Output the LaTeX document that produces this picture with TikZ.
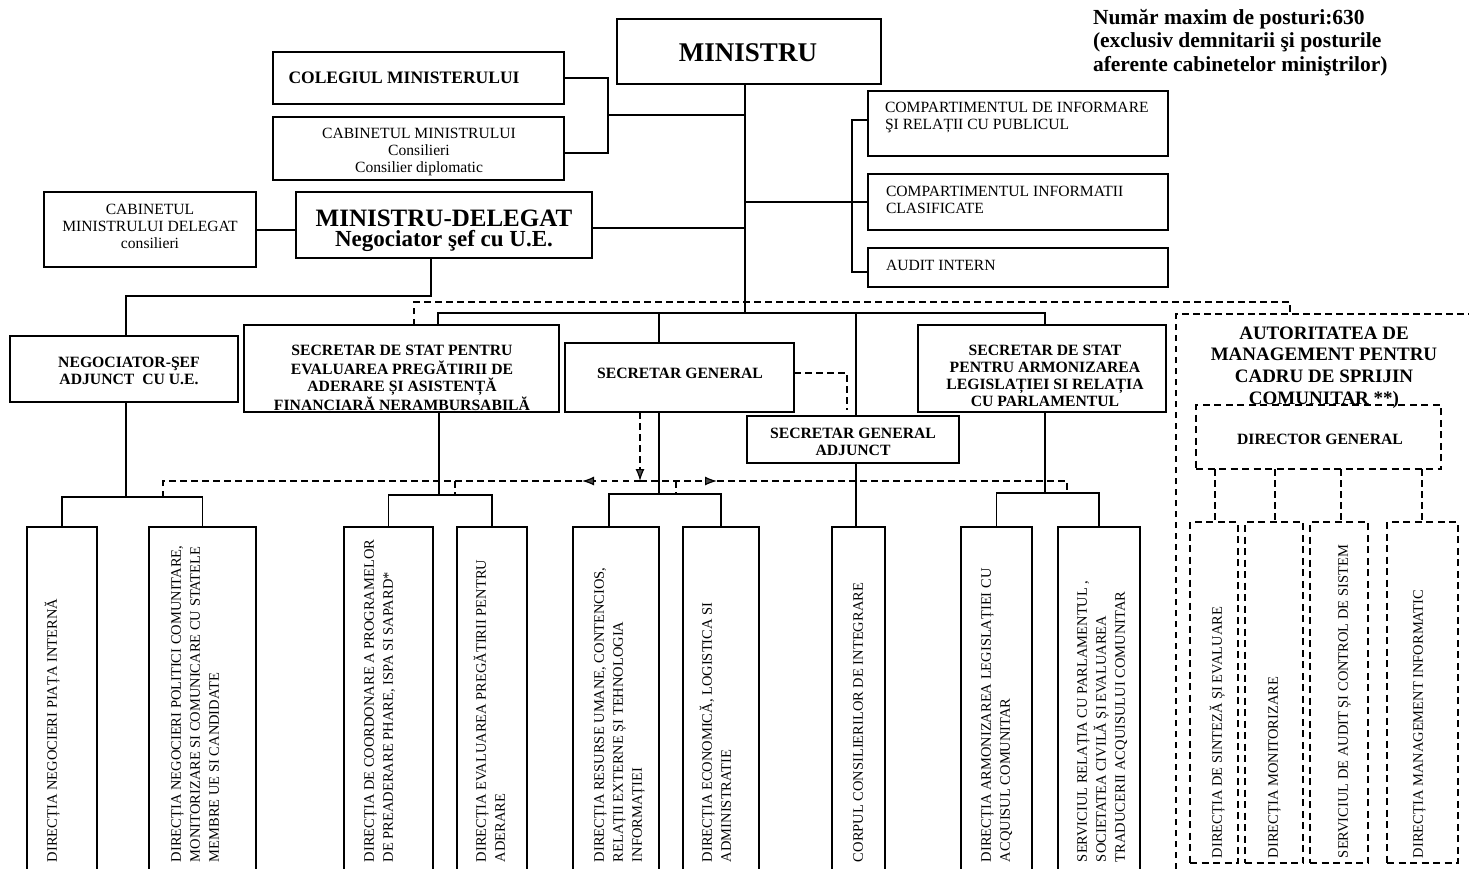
\documentclass[tikz,border=0pt]{standalone}
\usepackage{fontspec}
\setmainfont{Liberation Serif}
\usetikzlibrary{arrows.meta,calc}
\newcommand\mkbox[7]{\node[#1, minimum width={(#5)-(#3)}, minimum height={(#6)-(#4)}] (#2) at ({((#3)+(#5))/2},{((#4)+(#6))/2}) {#7};}
\tikzset{
 bxs/.style={draw, line width=1.3pt, inner sep=0pt, outer sep=0pt},
 dbxs/.style={bxs, dash pattern=on 7pt off 4.5pt},
 ln/.style={line width=1.2pt},
 dln/.style={line width=1.2pt, dash pattern=on 6.5pt off 4.5pt},
 darr/.style={dln, -{Latex[length=12pt,width=9pt,fill=gray!60!black]}},
 tx/.style={inner sep=0pt, outer sep=0pt},
 treg/.style={tx, align=center, font=\fontsize{15.6}{17}\selectfont},
 tsec/.style={tx, align=center, font=\bfseries\fontsize{15.7}{17}\selectfont},
 taut/.style={tx, align=center, font=\bfseries\fontsize{19}{21.7}\selectfont},
 tnote/.style={tx, align=left, font=\bfseries\fontsize{21.5}{23.5}\selectfont},
 tvert/.style={tx, align=left, rotate=90, anchor=north west, font=\fontsize{14.5}{19}\selectfont},
}
\begin{document}
\begin{tikzpicture}[x=1pt,y=-1pt]
\useasboundingbox (0,0) rectangle (1469,868);
\fill[white] (0,0) rectangle (1469,868);
\clip (0,0) rectangle (1469,868);

% ---------- boxes ----------
\mkbox{bxs}{min}{617}{19}{881}{84}{}
\mkbox{bxs}{col}{273}{52}{564}{104}{}
\mkbox{bxs}{cab}{273}{117}{564}{180}{}
\mkbox{bxs}{cabd}{44}{192}{256}{267}{}
\mkbox{bxs}{md}{296}{192}{592}{258}{}
\mkbox{bxs}{c1}{868}{91}{1168}{156}{}
\mkbox{bxs}{c2}{868}{174}{1168}{230}{}
\mkbox{bxs}{c3}{868}{248}{1168}{287}{}
\mkbox{bxs}{neg}{10}{336}{238}{402}{}
\mkbox{bxs}{sse}{244}{325}{559}{412}{}
\mkbox{bxs}{sg}{565}{343}{794}{412}{}
\mkbox{bxs}{sga}{747}{416}{959}{463}{}
\mkbox{bxs}{ssa}{918}{325}{1166}{412}{}
\mkbox{dbxs}{dg}{1196}{405}{1441}{469}{}
\mkbox{bxs}{b1}{27}{527}{97}{890}{}
\mkbox{bxs}{b2}{149}{527}{256}{890}{}
\mkbox{bxs}{b3}{344}{527}{433}{890}{}
\mkbox{bxs}{b4}{457}{527}{527}{890}{}
\mkbox{bxs}{b5}{573}{527}{659}{890}{}
\mkbox{bxs}{b6}{683}{527}{759}{890}{}
\mkbox{bxs}{b7}{832}{527}{885}{890}{}
\mkbox{bxs}{b8}{961}{527}{1032}{890}{}
\mkbox{bxs}{b9}{1058}{527}{1140}{890}{}
\mkbox{dbxs}{a1}{1190}{522}{1238}{863}{}
\mkbox{dbxs}{a2}{1245}{522}{1303}{863}{}
\mkbox{dbxs}{a3}{1310}{522}{1368}{863}{}
\mkbox{dbxs}{a4}{1387}{522}{1458}{863}{}

% ---------- texts ----------
\node[tx, anchor=base, font=\bfseries\fontsize{27}{30}\selectfont] (min-t) at (748,61) {MINISTRU};
\node[tx, anchor=base, font=\bfseries\fontsize{17.5}{19}\selectfont] (col-t) at (404,83.8) {COLEGIUL MINISTERULUI};
\node[treg, anchor=north] (cab-t) at (419,126.1) {\strut CABINETUL MINISTRULUI\\Consilieri\\Consilier diplomatic};
\node[treg, anchor=north] (cabd-t) at (150,202.1) {\strut CABINETUL\\MINISTRULUI DELEGAT\\consilieri};
\node[tx, align=center, anchor=north, font=\bfseries\fontsize{24}{20}\selectfont] (md-t) at (444,208.5) {\rule{0pt}{18pt}\fontsize{25}{20}\selectfont MINISTRU-DELEGAT\\\fontsize{23}{20}\selectfont Negociator şef cu U.E.};
\node[treg, align=left, anchor=north west] (c1-t) at (885,100.1) {\strut COMPARTIMENTUL DE INFORMARE\\ŞI RELAȚII CU PUBLICUL};
\node[treg, align=left, anchor=north west] (c2-t) at (886,184.1) {\strut COMPARTIMENTUL INFORMATII\\CLASIFICATE};
\node[tx, anchor=base west, font=\fontsize{15.6}{17}\selectfont] (c3-t) at (886,270) {AUDIT INTERN};
\node[tsec, anchor=north] (neg-t) at (129,355.2) {\strut NEGOCIATOR-ŞEF\\ADJUNCT~~CU U.E.};
\node[tsec, anchor=north] (sse-t) at (402,343.2) {\strut SECRETAR DE STAT PENTRU\\EVALUAREA PREGĂTIRII DE\\ADERARE ȘI ASISTENȚĂ\\FINANCIARĂ NERAMBURSABILĂ};
\node[tx, anchor=base, font=\bfseries\fontsize{15.7}{17}\selectfont] (sg-t) at (680,378.2) {SECRETAR GENERAL};
\node[tsec, anchor=north] (sga-t) at (853,426.2) {\strut SECRETAR GENERAL\\ADJUNCT};
\node[tsec, anchor=north] (ssa-t) at (1045,343.2) {\strut SECRETAR DE STAT\\PENTRU ARMONIZAREA\\LEGISLAȚIEI SI RELAȚIA\\CU PARLAMENTUL};
\node[taut, anchor=north] (aut-t) at (1324,324.1) {\strut AUTORITATEA DE\\MANAGEMENT PENTRU\\CADRU DE SPRIJIN\\COMUNITAR **)};
\node[tx, anchor=base, font=\bfseries\fontsize{15.7}{17}\selectfont] (dg-t) at (1320,444.2) {DIRECTOR GENERAL};
\node[tnote, anchor=north west] (note) at (1093,7.6) {\strut Număr maxim de posturi:630\\(exclusiv demnitarii şi posturile\\aferente cabinetelor miniştrilor)};

\node[tvert] (b1-t) at (43.5,862) {\strut DIRECȚIA NEGOCIERI PIAȚA INTERNĂ};
\node[tvert] (b2-t) at (167.5,862) {\strut DIRECȚIA NEGOCIERI POLITICI COMUNITARE,\\MONITORIZARE SI COMUNICARE CU STATELE\\MEMBRE UE SI CANDIDATE};
\node[tvert] (b3-t) at (360.5,862) {\strut DIRECȚIA DE COORDONARE A PROGRAMELOR\\DE PREADERARE PHARE, ISPA SI SAPARD*};
\node[tvert] (b4-t) at (472.5,862) {\strut DIRECȚIA EVALUAREA PREGĂTIRII PENTRU\\ADERARE};
\node[tvert] (b5-t) at (590.5,862) {\strut DIRECȚIA RESURSE UMANE, CONTENCIOS,\\RELAȚII EXTERNE ȘI TEHNOLOGIA\\INFORMAȚIEI};
\node[tvert] (b6-t) at (698.5,862) {\strut DIRECȚIA ECONOMICĂ, LOGISTICA SI\\ADMINISTRATIE};
\node[tvert] (b7-t) at (849.5,862) {\strut CORPUL CONSILIERILOR DE INTEGRARE};
\node[tvert] (b8-t) at (977.5,862) {\strut DIRECȚIA ARMONIZAREA LEGISLAȚIEI CU\\ACQUISUL COMUNITAR};
\node[tvert] (b9-t) at (1073.5,862) {\strut SERVICIUL RELAȚIA CU PARLAMENTUL ,\\SOCIETATEA CIVILĂ ȘI EVALUAREA\\TRADUCERII ACQUISULUI COMUNITAR};
\node[tvert] (a1-t) at (1208.5,858) {\strut DIRECȚIA DE SINTEZĂ ȘI EVALUARE};
\node[tvert] (a2-t) at (1264.5,858) {\strut DIRECȚIA MONITORIZARE};
\node[tvert] (a3-t) at (1334.5,858) {\strut SERVICIUL DE AUDIT ȘI CONTROL DE SISTEM};
\node[tvert] (a4-t) at (1409.5,858) {\strut DIRECȚIA MANAGEMENT INFORMATIC};

% ---------- coordinates ----------
\coordinate (bTr) at (745,313);
\coordinate (busL) at (438,313);
\coordinate (busR) at (1045,313);
\coordinate (bSG) at (659,313);
\coordinate (bSGA) at (856,313);
\coordinate (brk) at (608,115);
\coordinate (cx) at (852,202);
\coordinate (mdn) at (431,296);
\coordinate (negx) at (126,296);
\coordinate (nb) at (126,497);
\coordinate (sb) at (439,495);
\coordinate (gb) at (659,494);
\coordinate (b5c) at (609,494);
\coordinate (ab) at (1045,493);
\coordinate (dA) at (414,302);
\coordinate (dB) at (1290,302);
\coordinate (autTop) at (1176,314);
\coordinate (autBL) at (1176,880);
\coordinate (autTR) at (1480,314);
\coordinate (dl) at (163,481);
\coordinate (dr) at (1067,481);
\coordinate (dm) at (640,481);
\coordinate (al) at (582,481);
\coordinate (ar) at (717,481);
\coordinate (ds) at (455,481);
\coordinate (dg2) at (676,481);
\coordinate (sgaJ) at (847,410);

% ---------- solid connectors ----------
\draw[ln] (min.south -| bTr) -- (bTr);
\draw[ln] (sse.north -| busL) -- (busL) -- (busR) -- (ssa.north -| busR);
\draw[ln] (bSG) -- (sg.north -| bSG);
\draw[ln] (bSGA) -- (sga.north -| bSGA);
\draw[ln] (col.east) -- (col.east -| brk) -- ([yshift=-4.5pt]cab.east -| brk) -- ([yshift=-4.5pt]cab.east);
\draw[ln] (brk) -- (brk -| bTr);
\draw[ln] ([yshift=-0.5pt]cabd.east) -- ([yshift=-0.5pt]cabd.east -| md.west);
\draw[ln] ([yshift=-3pt]md.east) -- ([yshift=-3pt]md.east -| bTr);
\draw[ln] (md.south -| mdn) -- (mdn) -- (negx) -- (neg.north -| negx);
\draw[ln] (cx -| bTr) -- (c2.west);
\draw[ln] ([yshift=3.5pt]c1.west) -- ([yshift=3.5pt]c1.west -| cx) -- ([yshift=-4.5pt]c3.west -| cx) -- ([yshift=-4.5pt]c3.west);
\draw[ln] (neg.south -| nb) -- (nb);
\draw[ln] (b1.north) -- (b1.north |- nb) -- (b2.north |- nb) -- (b2.north);
\draw[ln] (sse.south -| sb) -- (sb);
\draw[ln] (b3.north) -- (b3.north |- sb) -- (b4.north |- sb) -- (b4.north);
\draw[ln] (sg.south -| gb) -- (gb);
\draw[ln] (b5.north -| b5c) -- (b5c) -- (b6.north |- gb) -- (b6.north);
\draw[ln] (sga.south -| bSGA) -- (b7.north -| bSGA);
\draw[ln] (ssa.south -| ab) -- (ab);
\draw[ln] (b8.north) -- (b8.north |- ab) -- (b9.north |- ab) -- (b9.north);

% ---------- dashed connectors ----------
\draw[dln] (sse.north -| dA) -- (dA) -- (dB) -- (dB |- autTop);
\draw[dln] (autBL) -- (autTop) -- (autTR);
\draw[dln] ([yshift=4.5pt]sg.east) -| (sgaJ);
\draw[dln] (dl |- nb) -- (dl) -- (al);
\draw[darr] (dm) -- (al);
\draw[darr] (dm) -- (ar);
\draw[dln] (ar) -- (dr) -- (dr |- ab);
\draw[dln] (ds) -- (ds |- sb);
\draw[dln] (dg2) -- (dg2 |- gb);
\draw[darr] (sg.south -| dm) -- (dm);
\foreach \xx/\nm in {1215/a1,1275/a2,1341/a3,1422/a4}{
  \coordinate (k\nm) at (\xx,469);
  \draw[dln] (dg.south -| k\nm) -- (\nm.north -| k\nm);
}
\end{tikzpicture}
\end{document}
